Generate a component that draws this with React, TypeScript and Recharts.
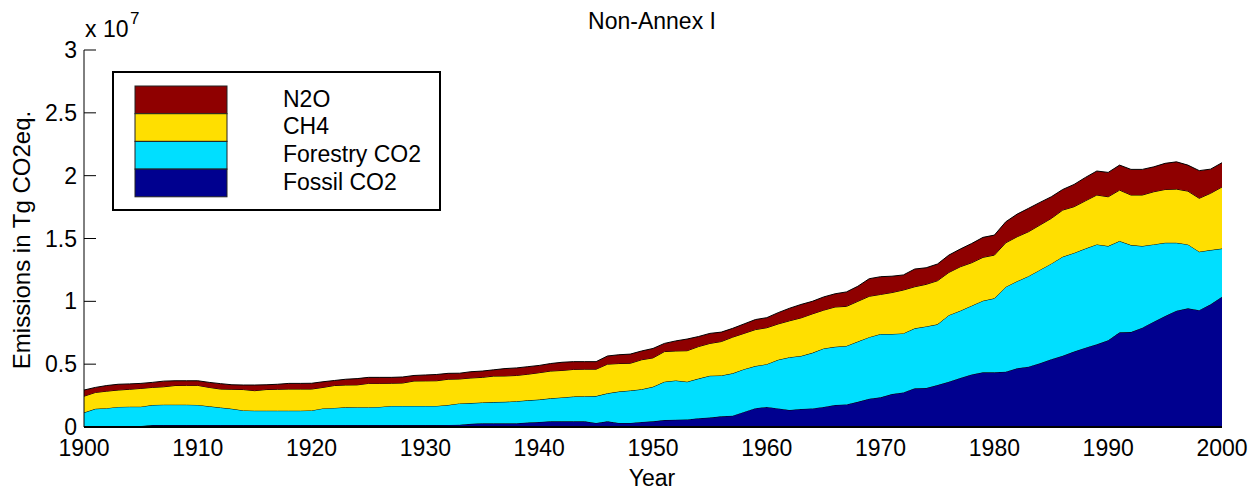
import { AreaChart, Area, XAxis, YAxis } from 'recharts';

// Emissions in units of 10^7 Tg CO2eq., one value per year 1900-2000
const years = Array.from({ length: 101 }, (_, i) => 1900 + i);

const fossilCO2 = [
  0.008, 0.008, 0.008, 0.008, 0.008, 0.008, 0.015, 0.015, 0.015, 0.015,
  0.015, 0.015, 0.015, 0.015, 0.015, 0.015, 0.015, 0.015, 0.015, 0.015,
  0.015, 0.015, 0.015, 0.015, 0.015, 0.015, 0.015, 0.015, 0.015, 0.015,
  0.015, 0.015, 0.016, 0.018, 0.025, 0.030, 0.030, 0.030, 0.030, 0.035,
  0.040, 0.045, 0.045, 0.045, 0.045, 0.032, 0.045, 0.032, 0.032, 0.040,
  0.045, 0.055, 0.058, 0.060, 0.070, 0.075, 0.085, 0.090, 0.120, 0.150,
  0.160, 0.148, 0.135, 0.143, 0.148, 0.160, 0.175, 0.180, 0.200, 0.225,
  0.236, 0.262, 0.275, 0.308, 0.310, 0.334, 0.360, 0.390, 0.418, 0.435,
  0.435, 0.440, 0.467, 0.480, 0.507, 0.539, 0.567, 0.600, 0.631, 0.658,
  0.690, 0.753, 0.755, 0.790, 0.838, 0.883, 0.925, 0.944, 0.930, 0.976,
  1.037,
];

const forestryCO2 = [
  0.107, 0.137, 0.142, 0.152, 0.154, 0.154, 0.160, 0.163, 0.163, 0.163,
  0.161, 0.150, 0.140, 0.130, 0.117, 0.115, 0.115, 0.115, 0.115, 0.115,
  0.117, 0.133, 0.137, 0.142, 0.143, 0.143, 0.145, 0.153, 0.153, 0.153,
  0.153, 0.153, 0.159, 0.170, 0.165, 0.165, 0.168, 0.170, 0.175, 0.177,
  0.178, 0.183, 0.190, 0.197, 0.200, 0.214, 0.223, 0.250, 0.258, 0.260,
  0.275, 0.305, 0.312, 0.300, 0.315, 0.333, 0.325, 0.337, 0.340, 0.335,
  0.340, 0.387, 0.420, 0.422, 0.442, 0.465, 0.463, 0.465, 0.480, 0.490,
  0.504, 0.478, 0.470, 0.477, 0.490, 0.483, 0.530, 0.535, 0.547, 0.570,
  0.589, 0.675, 0.693, 0.720, 0.743, 0.761, 0.788, 0.785, 0.789, 0.795,
  0.750, 0.727, 0.693, 0.650, 0.615, 0.583, 0.541, 0.509, 0.465, 0.432,
  0.383,
];

const ch4 = [
  0.130, 0.130, 0.135, 0.134, 0.138, 0.145, 0.140, 0.142, 0.152, 0.153,
  0.155, 0.150, 0.147, 0.155, 0.166, 0.159, 0.168, 0.170, 0.172, 0.172,
  0.170, 0.167, 0.178, 0.177, 0.177, 0.189, 0.187, 0.180, 0.182, 0.198,
  0.199, 0.200, 0.205, 0.194, 0.200, 0.200, 0.207, 0.206, 0.205, 0.208,
  0.214, 0.217, 0.215, 0.216, 0.215, 0.214, 0.232, 0.223, 0.217, 0.235,
  0.230, 0.240, 0.235, 0.247, 0.255, 0.257, 0.270, 0.288, 0.285, 0.290,
  0.290, 0.285, 0.290, 0.303, 0.310, 0.305, 0.317, 0.315, 0.320, 0.325,
  0.315, 0.330, 0.345, 0.331, 0.335, 0.347, 0.340, 0.350, 0.342, 0.345,
  0.344, 0.351, 0.354, 0.354, 0.357, 0.360, 0.371, 0.368, 0.380, 0.393,
  0.392, 0.405, 0.398, 0.406, 0.419, 0.424, 0.427, 0.424, 0.425, 0.452,
  0.490,
];

const n2o = [
  0.049, 0.040, 0.045, 0.046, 0.043, 0.040, 0.040, 0.045, 0.038, 0.037,
  0.037, 0.040, 0.043, 0.036, 0.036, 0.045, 0.038, 0.040, 0.045, 0.045,
  0.046, 0.045, 0.040, 0.046, 0.050, 0.048, 0.048, 0.047, 0.048, 0.044,
  0.047, 0.050, 0.047, 0.046, 0.050, 0.050, 0.050, 0.059, 0.060, 0.060,
  0.058, 0.060, 0.065, 0.062, 0.060, 0.060, 0.065, 0.070, 0.073, 0.070,
  0.075, 0.065, 0.080, 0.093, 0.080, 0.080, 0.075, 0.070, 0.075, 0.080,
  0.080, 0.090, 0.100, 0.107, 0.100, 0.105, 0.105, 0.115, 0.120, 0.140,
  0.141, 0.130, 0.120, 0.141, 0.132, 0.133, 0.138, 0.141, 0.153, 0.159,
  0.159, 0.167, 0.180, 0.186, 0.180, 0.172, 0.164, 0.177, 0.186, 0.191,
  0.194, 0.199, 0.204, 0.204, 0.198, 0.208, 0.217, 0.207, 0.220, 0.192,
  0.193,
];

const xTicks = [1900, 1910, 1920, 1930, 1940, 1950, 1960, 1970, 1980, 1990, 2000];
const yTicks = [0, 0.5, 1, 1.5, 2, 2.5, 3];

// bottom-to-top stacking order
const series = [
  { key: 'fossil', name: 'Fossil CO2', color: '#00008F' },
  { key: 'forestry', name: 'Forestry CO2', color: '#00DFFF' },
  { key: 'ch4', name: 'CH4', color: '#FFDF00' },
  { key: 'n2o', name: 'N2O', color: '#8F0000' },
];

const data = years.map((year, i) => ({
  year,
  fossil: fossilCO2[i],
  forestry: forestryCO2[i],
  ch4: ch4[i],
  n2o: n2o[i],
}));

const FONT = '"Liberation Sans", Arial, Helvetica, sans-serif';
const W = 1250;
const H = 486;

function YTick({ x, y, payload }: any) {
  return (
    <g>
      <line x1={x + 7} x2={x + 19} y1={y} y2={y} stroke="#000" strokeWidth={1} />
      <text x={x} y={y} dy="0.355em" textAnchor="end" fontSize={23} fontFamily={FONT} fill="#000">
        {String(payload.value)}
      </text>
    </g>
  );
}

function Overlay() {
  const legendRows = [...series].reverse();
  return (
    <svg
      width={W}
      height={H}
      style={{ position: 'absolute', left: 0, top: 0, pointerEvents: 'none' }}
      fontFamily={FONT}
    >
      <text x={652} y={29} textAnchor="middle" fontSize={23} fill="#000">Non-Annex I</text>
      <text x={85} y={37} fontSize={23} fill="#000">x 10</text>
      <text x={130} y={24} fontSize={17} fill="#000">7</text>
      <text transform="translate(30, 240) rotate(-90)" textAnchor="middle" fontSize={24} fill="#000">
        Emissions in Tg CO2eq.
      </text>
      <text x={652} y={486} textAnchor="middle" fontSize={23} fill="#000">Year</text>

      <rect x={113} y={72} width={327} height={138} fill="#fff" stroke="#000" strokeWidth={2} />
      {legendRows.map((s, i) => {
        const top = 86 + i * 27.7;
        return (
          <g key={s.key}>
            <rect x={135} y={top} width={92} height={27.7} fill={s.color} stroke="#222" strokeWidth={1} />
            <text x={283} y={top + 20.7} fontSize={23} fill="#000">{s.name}</text>
          </g>
        );
      })}
    </svg>
  );
}

export default function App() {
  return (
    <div style={{ position: 'relative', width: W, height: H, overflow: 'hidden', background: '#fff' }}>
      <style>{'body { margin: 0; }'}</style>
      <AreaChart width={W} height={H} data={data} margin={{ top: 50, right: 28, bottom: 29, left: 0 }}>
        <XAxis
          dataKey="year"
          type="number"
          domain={[1900, 2000]}
          ticks={xTicks}
          interval={0}
          tickLine={false}
          tickSize={0}
          tickMargin={13}
          height={30}
          axisLine={{ stroke: '#000', strokeWidth: 2 }}
          tick={{ fill: '#000', fontSize: 23, fontFamily: FONT }}
        />
        <YAxis
          type="number"
          domain={[0, 3]}
          ticks={yTicks}
          interval={0}
          width={84}
          tickLine={false}
          tickSize={0}
          tickMargin={7}
          axisLine={{ stroke: '#000', strokeWidth: 1 }}
          tick={<YTick />}
        />
        {series.map((s) => (
          <Area
            key={s.key}
            type="linear"
            dataKey={s.key}
            name={s.name}
            stackId="emissions"
            stroke="#000"
            strokeWidth={1}
            fill={s.color}
            fillOpacity={1}
            dot={false}
            activeDot={false}
            isAnimationActive={false}
          />
        ))}
      </AreaChart>
      <Overlay />
    </div>
  );
}
